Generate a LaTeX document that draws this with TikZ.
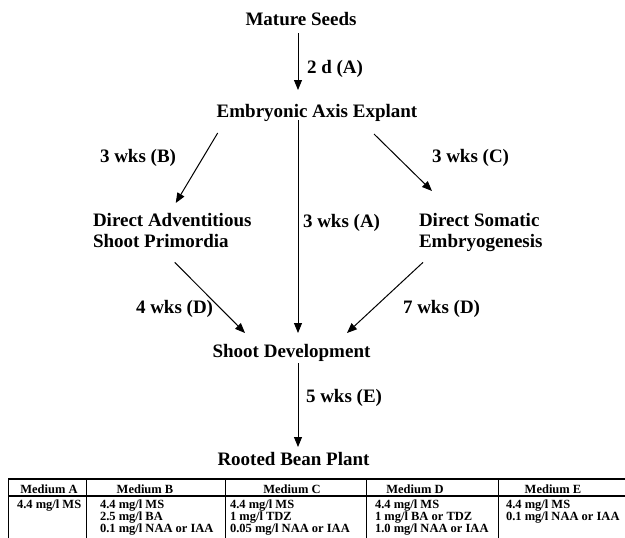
\documentclass[tikz,border=0pt]{standalone}
\usepackage{fontspec}
\setmainfont{Liberation Serif}
\usetikzlibrary{arrows.meta}
\begin{document}
\begin{tikzpicture}[x=1pt,y=-1pt,
  lbl/.style={inner sep=0pt,outer sep=0pt,font=\fontsize{19}{21}\selectfont\bfseries,text height=13pt,text depth=4pt},
  mlbl/.style={inner sep=0pt,outer sep=0pt,font=\fontsize{19}{21}\selectfont\bfseries,align=left},
  tlbl/.style={inner sep=0pt,outer sep=0pt,font=\fontsize{12.5}{12}\selectfont\bfseries},
  tcell/.style={inner sep=0pt,outer sep=0pt,font=\fontsize{12.5}{12}\selectfont\bfseries,align=left,anchor=north west},
  arr/.style={line width=1pt,-{Triangle[length=10pt,width=8pt]}},
  hline/.style={line width=1.1pt},
  vline/.style={line width=0.7pt}]
\useasboundingbox (0,0) rectangle (625,538);
% main nodes
\node[lbl,anchor=base] (ms) at (301,26) {Mature Seeds};
\node[lbl,anchor=base] (eae) at (317,117) {Embryonic Axis Explant};
\node[mlbl,anchor=north west] (da) at (93,213) {Direct Adventitious\\Shoot Primordia};
\node[mlbl,anchor=north west] (dse) at (419,213) {Direct Somatic\\Embryogenesis};
\node[lbl,anchor=base] (sd) at (291.5,357) {Shoot Development};
\node[lbl,anchor=base] (rbp) at (293.5,465) {Rooted Bean Plant};
% labels
\node[lbl,anchor=base west] (l1) at (307,73) {2 d (A)};
\node[lbl,anchor=base west] (l2) at (100,162) {3 wks (B)};
\node[lbl,anchor=base west] (l3) at (432,162) {3 wks (C)};
\node[lbl,anchor=base west] (l4) at (303,227) {3 wks (A)};
\node[lbl,anchor=base west] (l5) at (136,313) {4 wks (D)};
\node[lbl,anchor=base west] (l6) at (403,313) {7 wks (D)};
\node[lbl,anchor=base west] (l7) at (306,402) {5 wks (E)};
% connectors
\draw[arr] ([shift={(-3,3)}]ms.south) -- ([shift={(-19,-14)}]eae.north);
\draw[arr] ([shift={(1,12)}]eae.south west) -- ([shift={(3.5,-10)}]da.north);
\draw[arr] ([shift={(57,13)}]eae.south) -- ([shift={(13,-22)}]dse.north west);
\draw[arr] ([shift={(-19,-1)}]eae.south) -- ([shift={(6.5,-11)}]sd.north);
\draw[arr] ([shift={(2.5,15)}]da.south) -- ([shift={(-46.5,-11)}]sd.north);
\draw[arr] ([shift={(4,11)}]dse.south west) -- ([shift={(55.5,-11)}]sd.north);
\draw[arr] ([shift={(6.5,2)}]sd.south) -- ([shift={(4.5,-5)}]rbp.north);
% table
\draw[hline] (8,479) -- (625,479);
\draw[hline] (8,496) -- (625,496);
\foreach \x in {8,86,225,366,498} \draw[vline] (\x,479) -- (\x,538);
\node[tlbl,anchor=base] (ha) at (49,493) {Medium A};
\node[tlbl,anchor=base] (hb) at (145,493) {Medium B};
\node[tlbl,anchor=base] (hc) at (292,493) {Medium C};
\node[tlbl,anchor=base] (hd) at (415,493) {Medium D};
\node[tlbl,anchor=base] (he) at (553,493) {Medium E};
\node[tcell] (ca) at (17,499.5) {4.4 mg/l MS};
\node[tcell] (cb) at (100,499.5) {4.4 mg/l MS\\2.5 mg/l BA\\0.1 mg/l NAA or IAA};
\node[tcell] (cc) at (230,499.5) {4.4 mg/l MS\\1 mg/l TDZ\\0.05 mg/l NAA or IAA};
\node[tcell] (cd) at (375,499.5) {4.4 mg/l MS\\1 mg/l BA or TDZ\\1.0 mg/l NAA or IAA};
\node[tcell] (ce) at (506,499.5) {4.4 mg/l MS\\0.1 mg/l NAA or IAA};
\end{tikzpicture}
\end{document}
